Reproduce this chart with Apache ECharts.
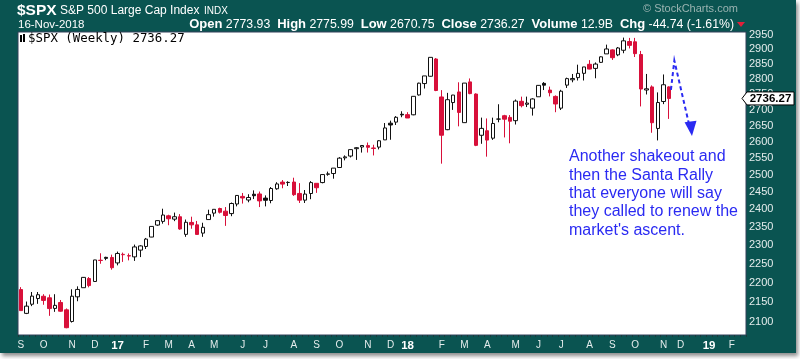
<!DOCTYPE html>
<html><head><meta charset="utf-8">
<script src="https://cdn.jsdelivr.net/npm/echarts@6/dist/echarts.min.js"></script>
<style>
html,body{margin:0;padding:0;background:#fff;}
#frame{position:absolute;left:0;top:0;width:796px;height:353px;box-shadow:2px 3px 4px rgba(0,0,0,0.45);}
#chart{width:796px;height:353px;}
</style></head><body>
<div id="frame"><div id="chart"></div></div>
<script>
// ---- data (weekly, first week ending 2016-09-09) ----
const firstWeek = [2016, 8, 9];
const futureWeeks = 13;
const prevCloseBefore = 2179.98;
const opens = [2181.6,2120.9,2144.0,2158.5,2164.3,2160.4,2133.4,2148.5,2129.8,2100.6,
 2162.9,2186.4,2210.2,2202.6,2258.8,2266.5,2266.2,2251.6,2273.6,2270.0,
 2267.8,2286.0,2295.9,2321.7,2354.9,2365.2,2380.9,2371.5,2378.2,2329.1,
 2362.3,2355.5,2332.6,2370.3,2388.5,2401.6,2394.0,2387.2,2414.5,2436.3,
 2425.9,2442.6,2443.3,2431.4,2424.5,2458.4,2477.9,2477.1,2478.1,2444.9,
 2425.5,2444.7,2474.4,2476.6,2501.0,2503.3,2521.2,2550.2,2555.6,2578.1,
 2583.2,2587.5,2580.2,2582.9,2605.1,2657.2,2660.6,2685.5,2684.2,2683.7,
 2747.7,2785.0,2809.2,2867.2,2741.1,2636.8,2723.0,2757.4,2658.9,2790.5,
 2750.6,2619.4,2633.5,2610.4,2670.1,2680.8,2675.5,2665.1,2727.0,2717.4,
 2705.1,2741.7,2785.6,2763.5,2742.9,2705.0,2779.8,2797.4,2804.6,2819.0,
 2849.3,2835.5,2855.9,2884.7,2898.4,2881.4,2897.1,2927.4,2926.3,2882.5,
 2763.8,2773.9,2640.7,2726.4,2773.93];
const highs = [2187.9,2150.8,2175.3,2175.3,2169.6,2168.8,2169.6,2154.8,2133.3,2182.3,
 2189.9,2214.1,2214.1,2259.8,2277.5,2268.1,2273.8,2282.1,2279.3,2277.0,
 2301.0,2299.3,2319.2,2351.3,2367.8,2401.0,2383.9,2390.0,2385.7,2370.4,
 2378.4,2366.4,2361.4,2398.2,2399.3,2403.9,2405.8,2418.7,2440.2,2446.2,
 2442.6,2453.8,2450.4,2439.2,2463.5,2477.6,2484.0,2480.4,2490.9,2474.9,
 2454.8,2480.9,2474.5,2500.2,2508.9,2519.4,2552.5,2557.7,2575.4,2583.0,
 2588.4,2597.0,2590.1,2604.2,2657.7,2665.2,2679.6,2695.0,2692.1,2743.5,
 2787.9,2810.3,2872.9,2870.6,2763.4,2754.4,2747.8,2789.2,2786.6,2801.9,
 2752.8,2674.8,2672.1,2674.7,2717.5,2683.6,2682.9,2732.9,2742.1,2742.2,
 2736.9,2779.9,2789.8,2775.0,2746.1,2764.4,2804.5,2816.8,2848.0,2840.4,
 2863.4,2855.6,2876.2,2916.5,2900.2,2908.3,2940.9,2939.9,2939.9,2894.8,
 2816.9,2778.9,2756.0,2815.2,2775.99];
const lows = [2127.8,2119.1,2139.2,2145.0,2142.6,2114.7,2124.7,2125.1,2083.8,2097.9,
 2151.6,2186.4,2187.4,2202.6,2249.4,2258.8,2233.6,2245.1,2254.3,2258.4,
 2257.0,2267.2,2289.1,2321.4,2352.9,2358.8,2354.5,2365.9,2341.9,2322.3,
 2344.7,2329.0,2322.3,2370.3,2378.5,2387.4,2352.7,2379.8,2407.7,2415.7,
 2419.4,2428.7,2405.7,2407.7,2416.6,2455.6,2459.9,2466.5,2437.8,2417.4,
 2417.4,2428.2,2446.6,2474.4,2496.7,2488.0,2520.4,2542.7,2551.4,2544.0,
 2566.2,2566.3,2557.5,2575.9,2605.1,2605.5,2651.5,2676.1,2673.6,2682.4,
 2745.6,2768.6,2808.1,2760.0,2532.7,2635.3,2699.4,2647.3,2658.9,2750.0,
 2585.9,2593.1,2553.8,2605.2,2660.0,2612.7,2594.6,2653.0,2707.4,2708.5,
 2681.3,2741.7,2763.6,2742.9,2692.0,2699.0,2770.5,2789.2,2795.1,2795.1,
 2832.5,2802.5,2853.6,2884.7,2864.1,2876.9,2886.9,2903.3,2874.0,2710.5,
 2749.2,2627.2,2603.5,2717.9,2670.75];
const closes = [2127.81,2139.16,2164.69,2168.27,2153.74,2132.98,2141.16,2126.41,2085.18,2164.45,
 2181.90,2213.35,2191.95,2259.53,2258.07,2263.79,2238.83,2276.98,2274.64,2271.31,
 2294.69,2297.42,2316.10,2351.16,2367.34,2383.12,2372.60,2378.25,2343.98,2362.72,
 2355.54,2328.95,2348.69,2384.20,2399.29,2390.90,2381.73,2415.82,2439.07,2431.77,
 2433.15,2438.30,2423.41,2425.18,2459.27,2472.54,2472.10,2476.83,2441.32,2425.55,
 2443.05,2476.55,2461.43,2500.23,2502.22,2519.36,2549.33,2553.17,2575.21,2581.07,
 2587.84,2582.30,2578.85,2602.42,2642.22,2651.50,2675.81,2683.34,2673.61,2743.15,
 2786.24,2810.30,2872.87,2762.13,2619.55,2732.22,2747.30,2691.25,2786.57,2752.01,
 2588.26,2640.87,2604.47,2656.30,2670.14,2669.91,2663.42,2727.72,2712.97,2721.33,
 2734.62,2779.03,2779.66,2754.88,2718.37,2759.82,2801.31,2801.83,2818.82,2840.35,
 2833.28,2850.13,2874.69,2901.52,2871.68,2904.98,2929.67,2913.98,2885.57,2767.13,
 2767.78,2658.69,2723.06,2781.01,2736.27];
const yTicks = [2100,2150,2200,2250,2300,2350,2400,2450,2500,2550,2600,2650,2700,2750,2800,2850,2900,2950];
const monthTicks = [[0,'S'],[4,'O'],[9,'N'],[13,'D'],[17,'17'],[22,'F'],[26,'M'],[30,'A'],[34,'M'],[39,'J'],[43,'J'],[48,'A'],[52,'S'],[56,'O'],[61,'N'],[65,'D'],[68,'18'],[74,'F'],[78,'M'],[82,'A'],[87,'M'],[91,'J'],[95,'J'],[100,'A'],[104,'S'],[108,'O'],[113,'N'],[116,'D'],[121,'19'],[125,'F']];
const lastPrice = 2736.27;
const yMin = 2067.2, yMax = 2960.5;
const noteLines = ['Another shakeout and','then the Santa Rally','that everyone will say','they called to renew the',"market's ascent."];
// annotation arrow in data space: [week index, price]
const arrowPath = [[114.3,2764],[114.9,2862],[117.4,2660]];
const arrowHead = [[116.7,2660],[118.0,2617],[118.8,2665]];

// ---- build ----
const RED = '#d8103a', BLACK = '#111';
const weeks = [];
const d0 = Date.UTC(firstWeek[0], firstWeek[1], firstWeek[2]);
for (let i = 0; i < closes.length + futureWeeks; i++) {
  weeks.push(new Date(d0 + i * 7 * 864e5).toISOString().slice(0, 10));
}
const labelMap = {};
monthTicks.forEach(([i, t]) => labelMap[i] = t);
const candles = closes.map((c, i) => {
  const o = opens[i];
  const prev = i === 0 ? prevCloseBefore : closes[i - 1];
  const col = c >= prev ? BLACK : RED;
  const fill = c > o ? '#fff' : col;
  return { value: [o, c, lows[i], highs[i]],
    itemStyle: { color: fill, color0: fill, borderColor: col, borderColor0: col } };
});
const FONT = "'Liberation Sans', Arial, sans-serif";
const chart = echarts.init(document.getElementById('chart'), null, {renderer: 'canvas'});
chart.setOption({
  animation: false,
  backgroundColor: '#0a5451',
  grid: { left: 18, right: 50, top: 32, bottom: 18, show: true, backgroundColor: '#fff', borderColor: '#33405a', borderWidth: 1 },
  xAxis: {
    type: 'category', data: weeks, boundaryGap: true,
    axisLine: { show: false },
    axisTick: { show: true, interval: 0, length: 2, lineStyle: { color: '#1c3b3a' } },
    axisLabel: {
      interval: 0, margin: 5, color: '#e4ecec', fontFamily: FONT, fontSize: 10,
      formatter: (v, i) => { const t = labelMap[i]; if (!t) return ''; return /\d/.test(t) ? '{b|' + t + '}' : t; },
      rich: { b: { fontWeight: 'bold', fontSize: 11.5, color: '#fff', fontFamily: FONT } }
    },
    splitLine: { show: false }
  },
  yAxis: {
    type: 'log', position: 'right', min: yMin, max: yMax,
    axisLine: { show: false }, axisTick: { show: false }, splitLine: { show: false },
    axisLabel: { customValues: yTicks, margin: 3, color: '#e4ecec', fontFamily: FONT, fontSize: 11,
      formatter: v => String(Math.round(v)) }
  },
  series: [{
    type: 'candlestick', data: candles, barWidth: 4,
    itemStyle: { borderWidth: 1 }
  }]
});

function toPx(p) {
  const i0 = Math.floor(p[0]);
  const a = chart.convertToPixel({ gridIndex: 0 }, [i0, p[1]]);
  const b = chart.convertToPixel({ gridIndex: 0 }, [i0 + 1, p[1]]);
  return [a[0] + (p[0] - i0) * (b[0] - a[0]), a[1]];
}
const BLUE = '#2a2af2';
const g = [
  { type: 'text', x: 17, y: 11, style: { text: '$SPX', fill: '#fff', font: 'bold 15.5px ' + FONT, textVerticalAlign: 'middle' } },
  { type: 'text', x: 60, y: 11, style: { text: 'S&P 500 Large Cap Index', fill: '#fff', font: '12px ' + FONT, textVerticalAlign: 'middle' } },
  { type: 'text', x: 204, y: 11, style: { text: 'INDX', fill: '#fff', font: '10px ' + FONT, textVerticalAlign: 'middle' } },
  { type: 'text', x: 18, y: 24.5, style: { text: '16-Nov-2018', fill: '#fff', font: '11.5px ' + FONT, textVerticalAlign: 'middle' } },
  { type: 'text', x: 734, y: 24.5, style: {
      text: '{b|Open} 2773.93  {b|High} 2775.99  {b|Low} 2670.75  {b|Close} 2736.27  {b|Volume} 12.9B  {b|Chg} -44.74 (-1.61%)',
      fill: '#fff', font: '12.3px ' + FONT, textAlign: 'right', textVerticalAlign: 'middle',
      rich: { b: { fontWeight: 'bold', fontSize: 13, fill: '#fff', color: '#fff', fontFamily: FONT } } } },
  { type: 'polygon', shape: { points: [[737, 22], [745, 22], [741, 27]] }, style: { fill: '#e0203a' } },
  { type: 'text', x: 643, y: 8.5, style: { text: '\u00a9 StockCharts.com', fill: '#9ab3b1', font: '11px ' + FONT, textVerticalAlign: 'middle' } },
  { type: 'rect', z: 10, shape: { x: 20, y: 35, width: 2, height: 7 }, style: { fill: '#000' } },
  { type: 'rect', z: 10, shape: { x: 23, y: 34, width: 2, height: 8 }, style: { fill: '#000' } },
  { type: 'text', x: 28, y: 39, z: 10, style: { text: '$SPX (Weekly) 2736.27', fill: '#000', font: "12.4px 'DejaVu Sans Mono', monospace", textVerticalAlign: 'middle' } }
];
noteLines.forEach((t, k) => g.push({ type: 'text', x: 569, y: 156.7 + k * 18.4, z: 10,
  style: { text: t, fill: BLUE, font: '16px ' + FONT, textVerticalAlign: 'middle' } }));
g.push({ type: 'polyline', z: 10, shape: { points: arrowPath.map(toPx) },
  style: { stroke: BLUE, lineWidth: 2, lineDash: [4, 3], fill: null } });
g.push({ type: 'polygon', z: 10, shape: { points: arrowHead.map(toPx) }, style: { fill: BLUE } });
// last-price tag on the right axis
const yp = chart.convertToPixel({ yAxisIndex: 0 }, lastPrice);
g.push({ type: 'polygon', z: 20, shape: { points: [[742, yp], [747, yp - 6.5], [794, yp - 6.5], [794, yp + 6.5], [747, yp + 6.5]] },
  style: { fill: '#fff', stroke: '#000', lineWidth: 1 } });
g.push({ type: 'text', z: 21, x: 770.5, y: yp + 0.5, style: { text: lastPrice.toFixed(2), fill: '#000',
  font: 'bold 11.5px ' + FONT, textAlign: 'center', textVerticalAlign: 'middle' } });
chart.setOption({ graphic: g });
</script>
</body></html>
